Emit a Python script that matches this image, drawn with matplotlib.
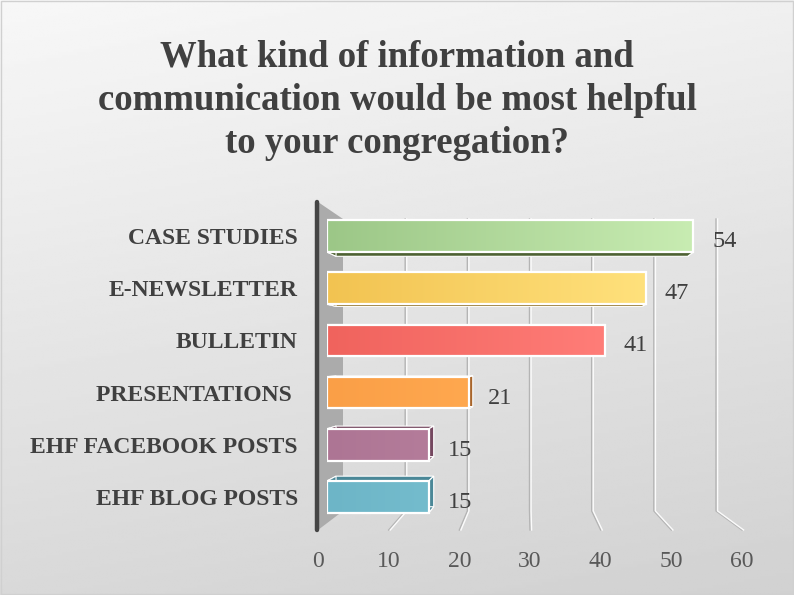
import numpy as np
import matplotlib
matplotlib.use("Agg")
import matplotlib.pyplot as plt
from matplotlib.colors import LinearSegmentedColormap
from matplotlib.patches import Rectangle, Polygon
from matplotlib.lines import Line2D

TITLE = "What kind of information and\ncommunication would be most helpful\nto your congregation?"
categories = ["CASE STUDIES", "E-NEWSLETTER", "BULLETIN", "PRESENTATIONS ",
              "EHF FACEBOOK POSTS", "EHF BLOG POSTS"]
values = [54, 47, 41, 21, 15, 15]
ticks = [0, 10, 20, 30, 40, 50, 60]

# (left shade, right shade, depth face)
bar_colors = [
    ("#9cc787", "#c8ecb2", "#4d6132"),
    ("#f2c351", "#ffe17c", "#8a6a1c"),
    ("#f0635d", "#ff7d78", "#9c3a36"),
    ("#fa9f47", "#ffa84f", "#a8652a"),
    ("#ad7594", "#b47c9a", "#74475f"),
    ("#6db5c7", "#74bccd", "#4a8797"),
]

W, H = 794, 595
fig = plt.figure(figsize=(W / 100, H / 100), dpi=100)
SERIF = ["Liberation Serif", "DejaVu Serif"]
TXT = "#404040"


def fx(px):
    return px / W


def fy(py):
    return 1 - py / H


# background gradient
bg = fig.add_axes([0, 0, 1, 1], zorder=-10)
yy, xx = np.mgrid[0:1:200j, 0:1:200j]
shade = 0.97 - 0.15 * (0.8 * yy + 0.2 * xx)
bg.imshow(shade, cmap="gray", vmin=0, vmax=1, extent=[0, 1, 0, 1],
          aspect="auto", origin="upper")
bg.add_patch(Rectangle((0.001, 0.001), 0.998, 0.997, fill=False,
                       edgecolor="#d0d0d0", lw=1, transform=bg.transAxes))
bg.set_xlim(0, 1)
bg.set_ylim(0, 1)
bg.axis("off")

fig.text(0.5, fy(100), TITLE, ha="center", va="center", fontsize=26.5,
         fontweight="bold", family=SERIF, color=TXT, linespacing=1.3)

# back wall axes (gridlines) and front axes (tick labels)
GRID_TOP, GRID_BEND, FRONT_Y = 219, 511, 530
ax_back = fig.add_axes([fx(343), fy(GRID_BEND), fx(716 - 343), fy(GRID_TOP) - fy(GRID_BEND)])
ax_back.set_xlim(0, 60)
ax_back.set_ylim(0, 1)
ax_back.axis("off")

ax_front = fig.add_axes([fx(318), fy(FRONT_Y), fx(742 - 318), 0.001])
ax_front.set_xlim(0, 60)
ax_front.set_xticks(ticks)
ax_front.set_xticklabels([str(t) for t in ticks], family=SERIF, fontsize=17,
                         color="#595959")
ax_front.tick_params(axis="x", length=0, pad=15)
ax_front.set_yticks([])
for s in ax_front.spines.values():
    s.set_visible(False)
ax_front.patch.set_alpha(0)

to_fig = fig.transFigure.inverted()


def back_pt(v, y):
    return to_fig.transform(ax_back.transData.transform((v, y)))


def front_pt(v):
    return to_fig.transform(ax_front.transData.transform((v, 0)))


for t in ticks[1:]:
    top = back_pt(t, 1)
    bend = back_pt(t, 0)
    foot = front_pt(t)
    for dx, col, lw in ((0.0, "#b4b4b4", 1.0), (1.6 / W, "#fbfbfb", 1.0)):
        fig.add_artist(Line2D([top[0] + dx, bend[0] + dx, foot[0] + dx],
                              [top[1], bend[1], foot[1]], color=col, lw=lw,
                              zorder=-5))

# side wall and axis line
w_top = back_pt(0, 1)
w_bot = back_pt(0, 0)
f_bot = front_pt(0)
f_top = (f_bot[0], fy(202))
fig.add_artist(Polygon([f_top, (w_top[0], w_top[1]), (w_bot[0], w_bot[1]), f_bot],
                       closed=True, facecolor="#ababab", edgecolor="none", zorder=-4))
fig.add_artist(Line2D([f_bot[0] - fx(1.5)] * 2, [f_bot[1], f_top[1]],
                      color="#454545", lw=3.2, solid_capstyle="round", zorder=-3))

# bars
ax = fig.add_axes([fx(327), fy(523), fx(734 - 327), fy(210) - fy(523)])
ax.set_xlim(0, 60)
ax.set_ylim(len(categories) - 0.5, -0.5)
ax.patch.set_alpha(0)
for s in ax.spines.values():
    s.set_visible(False)
ax.set_xticks([])
ax.set_yticks(range(len(categories)))
ax.set_yticklabels(categories, family=SERIF, fontweight="bold", fontsize=17,
                   color=TXT)
ax.tick_params(axis="y", length=0, pad=21)

bar_h = 0.61
x_per_px = 60 / (734 - 327)
y_per_px = 6 / (523 - 210)
vp_x, vp_y = 553, 360  # vanishing point in pixels
depth = 0.04


def to_px(x, y):
    return 327 + x / x_per_px, 210 + (y + 0.5) / y_per_px


def to_data(px, py):
    return (px - 327) * x_per_px, (py - 210) * y_per_px - 0.5


for i, (v, (c0, c1, cd)) in enumerate(zip(values, bar_colors)):
    y0, y1 = i - bar_h / 2, i + bar_h / 2
    front = [(0, y0), (v, y0), (v, y1), (0, y1)]
    back = []
    for x, y in front:
        px, py = to_px(x, y)
        back.append(to_data(px + (vp_x - px) * depth, py + (vp_y - py) * depth))
    for k in range(4):
        quad = [front[k], front[(k + 1) % 4], back[(k + 1) % 4], back[k]]
        ax.add_patch(Polygon(quad, closed=True, facecolor=cd, edgecolor="white",
                             lw=0.8, zorder=2))
    cmap = LinearSegmentedColormap.from_list(f"bar{i}", [c0, c1])
    grad = np.linspace(0, 1, 256).reshape(1, -1)
    img = ax.imshow(grad, cmap=cmap, extent=[0, v, y1, y0], aspect="auto",
                    zorder=3, interpolation="bilinear")
    rect = Rectangle((0, y0), v, bar_h, facecolor="none", edgecolor="white",
                     lw=1.6, zorder=4)
    ax.add_patch(rect)
    img.set_clip_path(rect)
    ax.annotate(str(v), (v, i), xytext=(13.5, -4), textcoords="offset points",
                ha="left", va="center", family=SERIF, fontsize=17.5, color=TXT,
                zorder=5)

ax.set_xlim(0, 60)
ax.set_ylim(len(categories) - 0.5, -0.5)

fig.savefig("out.png", dpi=100)
